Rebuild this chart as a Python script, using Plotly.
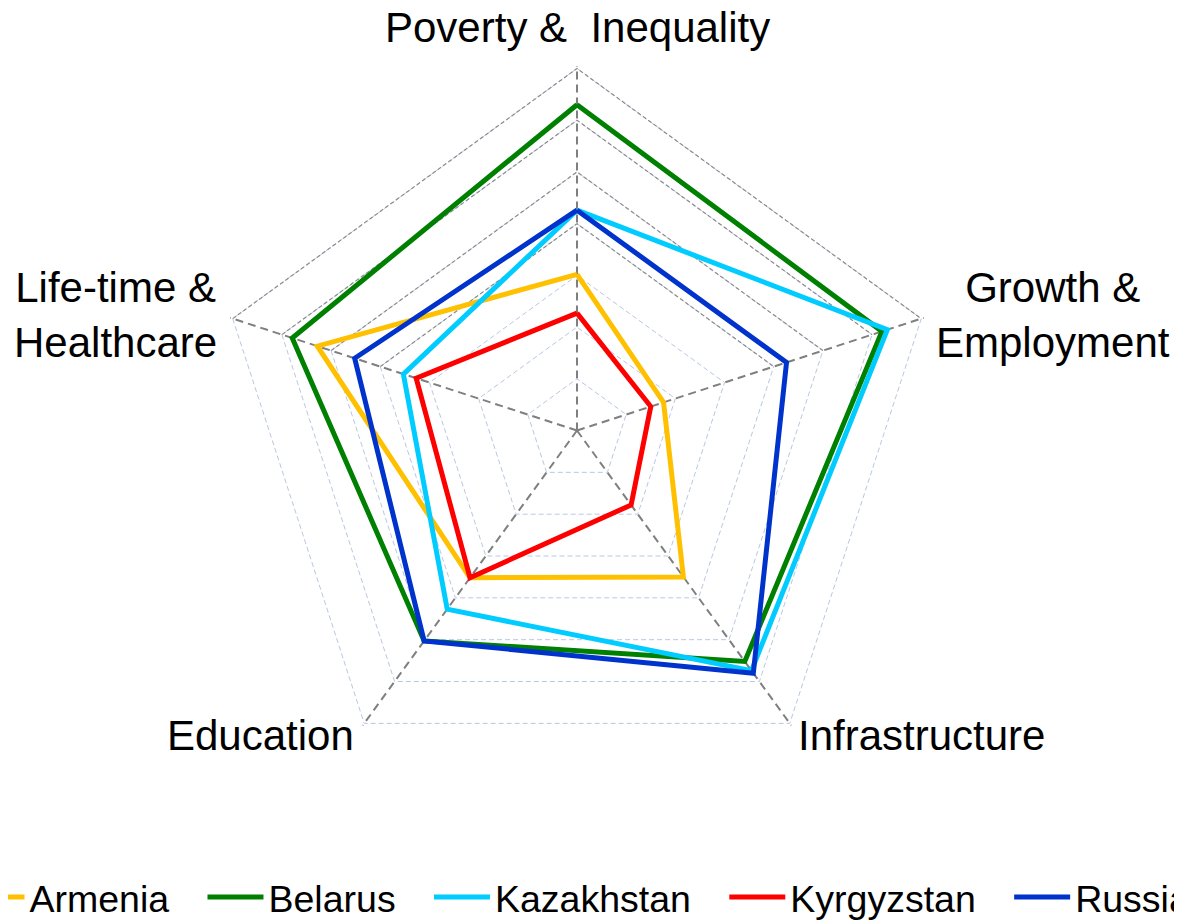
import math
import plotly.graph_objects as go

categories = ["Poverty & Inequality", "Growth & Employment", "Infrastructure",
              "Education", "Life-time & Healthcare"]
axis_labels = ["Poverty &\u00a0 Inequality", "Growth &<br>Employment", "Infrastructure",
               "Education", "Life-time &<br>Healthcare"]

countries = ["Armenia", "Belarus", "Kazakhstan", "Kyrgyzstan", "Russia"]
armenia = [3.02, 1.76, 3.50, 3.52, 5.28]
belarus = [6.30, 6.20, 5.52, 5.03, 5.79]
kazakhstan = [4.26, 6.31, 5.74, 4.27, 3.53]
kyrgyzstan = [2.27, 1.50, 1.78, 3.52, 3.27]
russia = [4.26, 4.26, 5.80, 5.03, 4.52]
series = [armenia, belarus, kazakhstan, kyrgyzstan, russia]
colors = ["#FFC000", "#008000", "#00CCFF", "#FF0000", "#0033CC"]

# outer grid rings drawn darker on the two upper edges in the reference
upper_ring_levels = [4, 5, 6, 7]
upper_edge_axes = ["Life-time & Healthcare", "Poverty & Inequality", "Growth & Employment"]

# page has an 8px body margin: work in figure pixels
OFF = 8
FW, FH = 1400, 923 - OFF
BM = 60                      # bottom margin that holds the legend
GH = FH - BM                 # plot-area height
CX, CY = 577 - OFF, 430.5 - OFF
RMAX, RGRID = 7.05, 7
R = 362 * RMAX / RGRID       # pixel radius of the polar domain


def px_x(x):
    return x / FW


def px_y(y):
    return (GH - y) / GH


fig = go.Figure()
for lvl in upper_ring_levels:
    fig.add_trace(go.Scatterpolar(
        r=[lvl] * len(upper_edge_axes), theta=upper_edge_axes, mode="lines",
        line=dict(color="#8C8C8C", width=1.2, dash="4px,2.5px"),
        showlegend=False, hoverinfo="skip"))

for name, vals, col in zip(countries, series, colors):
    fig.add_trace(go.Scatterpolar(
        r=vals + [vals[0]], theta=categories + [categories[0]],
        mode="lines", name=name + "\u00a0\u00a0\u2009",
        line=dict(color=col, width=5)))

fig.update_layout(
    width=FW, height=FH,
    paper_bgcolor="white", plot_bgcolor="white",
    margin=dict(l=0, r=0, t=0, b=BM, autoexpand=False),
    font=dict(family="Liberation Sans, Arial, sans-serif", color="black"),
    polar=dict(
        domain=dict(x=[px_x(CX - R), px_x(CX + R)], y=[px_y(CY + R), px_y(CY - R)]),
        gridshape="linear",
        bgcolor="white",
        radialaxis=dict(range=[0, RMAX], tick0=0, dtick=1, showticklabels=False, ticks="",
                        showline=False, gridcolor="#B9C7E2", griddash="5px,3px", gridwidth=1.4),
        angularaxis=dict(direction="clockwise", rotation=90, showticklabels=False, ticks="",
                         type="category", categoryorder="array", categoryarray=categories,
                         showline=False, gridcolor="#7F7F7F", griddash="8px,5px", gridwidth=1.5),
    ),
    showlegend=True,
    legend=dict(orientation="h", x=px_x(-44.5), xanchor="left", y=px_y(897 - OFF),
                yanchor="middle",
                font=dict(size=37.5, family="Liberation Sans, Arial, sans-serif"),
                itemwidth=56, bgcolor="rgba(0,0,0,0)", traceorder="normal"),
)

# axis labels placed next to the polygon vertices
label_style = [
    dict(xanchor="center", xshift=0, yshift=41),
    dict(xanchor="left", xshift=13, yshift=4),
    dict(xanchor="left", xshift=6, yshift=-12),
    dict(xanchor="right", xshift=-8, yshift=-12),
    dict(xanchor="right", xshift=-14, yshift=4),
]
n = len(categories)
Rv = 362
for i, (lab, st) in enumerate(zip(axis_labels, label_style)):
    a = math.radians(90 - 360 / n * i)
    vx = CX + Rv * math.cos(a)
    vy = CY - Rv * math.sin(a)
    fig.add_annotation(x=px_x(vx), y=px_y(vy), xref="paper", yref="paper",
                       text=lab, showarrow=False, align="center", yanchor="middle",
                       font=dict(size=42, color="black"), **st)

fig.write_html("out.html")
